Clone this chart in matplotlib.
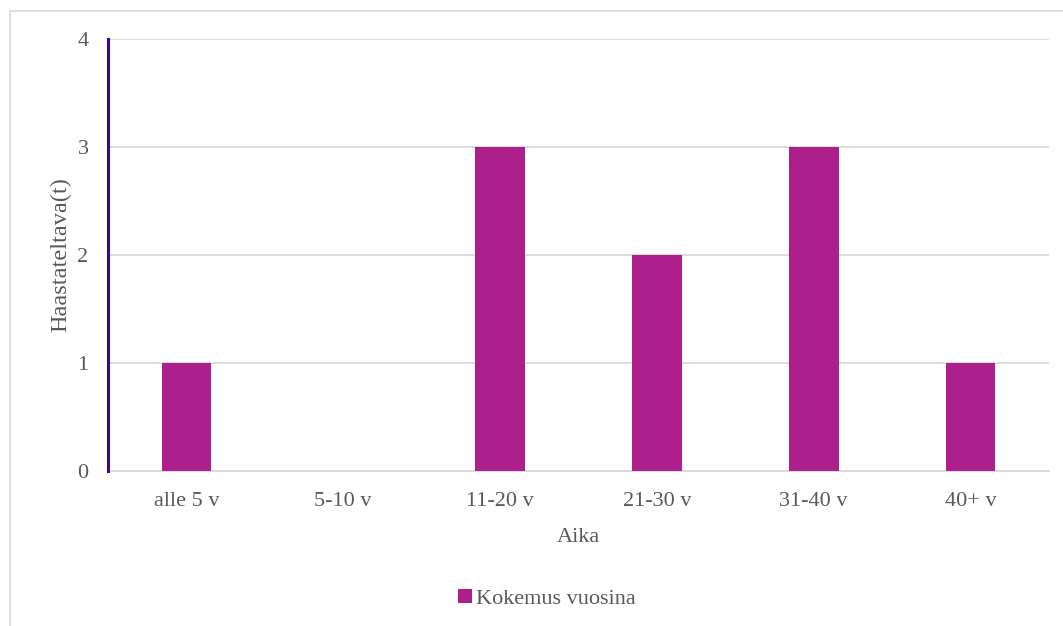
import matplotlib
matplotlib.use('Agg')
import matplotlib.pyplot as plt
from matplotlib.patches import Rectangle

# data
categories = ['alle 5 v', '5-10 v', '11-20 v', '21-30 v', '31-40 v', '40+ v']
values = [1, 0, 3, 2, 3, 1]
series_name = 'Kokemus vuosina'

bar_color = '#AE1F8E'
text_color = '#595959'
grid_color = '#D9D9D9'

plt.rcParams['font.family'] = ['Liberation Serif', 'DejaVu Serif']

W, H = 1063, 626
fig = plt.figure(figsize=(W / 100, H / 100), dpi=100)
ax = fig.add_axes([108 / W, 1 - 471 / H, (1049 - 108) / W, (471 - 39) / H])

x = range(len(categories))
ax.bar(x, values, width=0.316, color=bar_color, label=series_name, zorder=3)
ax.set_xlim(-0.5, len(categories) - 0.5)
ax.set_ylim(0, 4)
ax.set_yticks([0, 1, 2, 3, 4])
ax.set_xticks(list(x))
ax.set_xticklabels(categories)
ax.grid(axis='y', color=grid_color, linewidth=1.3, zorder=0)
ax.tick_params(axis='both', length=0, labelsize=16, colors=text_color)
ax.tick_params(axis='x', pad=15)
ax.tick_params(axis='y', pad=14)

for s in ['top', 'right']:
    ax.spines[s].set_visible(False)
ax.spines['bottom'].set_color(grid_color)
ax.spines['bottom'].set_linewidth(1.3)
ax.spines['left'].set_color('#3B0A8C')
ax.spines['left'].set_linewidth(2.2)
ax.spines['left'].set_zorder(4)

ax.set_xlabel('Aika', fontsize=16, color=text_color, labelpad=12)
ax.set_ylabel('Haastateltava(t)', fontsize=17.5, color=text_color)
ax.yaxis.set_label_coords((71 - 108) / (1049 - 108), 0.5)

leg = fig.legend(loc='center', bbox_to_anchor=(547 / W, 1 - 599 / H), frameon=False,
                 fontsize=16, handlelength=0.6, handleheight=0.6, handletextpad=0.2)
for t in leg.get_texts():
    t.set_color(text_color)

# outer chart border (cut off at the right and bottom)
fig.patches.append(Rectangle((10 / W, -0.1), 1.2, 1 - 11 / H + 0.1, transform=fig.transFigure,
                             fill=False, edgecolor='#D9D9D9', linewidth=1.2))

fig.savefig('out.png', dpi=100)
